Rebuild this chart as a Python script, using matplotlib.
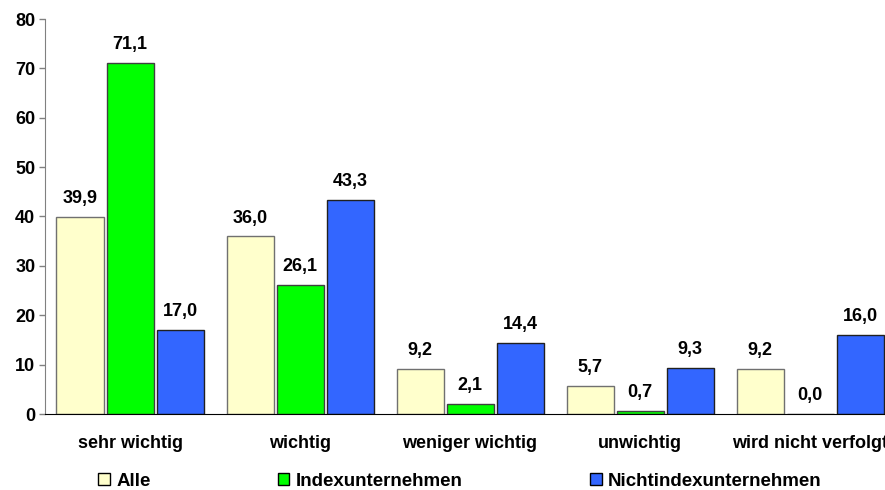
import numpy as np
import matplotlib.pyplot as plt
from matplotlib.patches import Patch

plt.rcParams['font.family'] = ['Liberation Sans', 'DejaVu Sans']
plt.rcParams['font.weight'] = 'bold'

categories = ['sehr wichtig', 'wichtig', 'weniger wichtig', 'unwichtig', 'wird nicht verfolgt']
series_names = ['Alle', 'Indexunternehmen', 'Nichtindexunternehmen']
alle = [39.9, 36.0, 9.2, 5.7, 9.2]
index_unt = [71.1, 26.1, 2.1, 0.7, 0.0]
nicht_index = [17.0, 43.3, 14.4, 9.3, 16.0]

colors = ['#FFFFCC', '#00FF00', '#3366FF']
edges = ['#707070', '#404040', '#202020']
fs = 13

fig = plt.figure(figsize=(8.85, 4.9), dpi=100)
# axes run past the right edge, so the last group is cut off
ax = fig.add_axes([45 / 885, 76 / 490, 850 / 885, 395 / 490])

x = np.arange(len(categories))
offset = 50 / 170
width = 47 / 170
for i, (vals, c, ec) in enumerate(zip([alle, index_unt, nicht_index], colors, edges)):
    bars = ax.bar(x + (i - 1) * offset, vals, width, color=c, edgecolor=ec, linewidth=1)
    for b, v in zip(bars, vals):
        ax.annotate(f'{v:.1f}'.replace('.', ','), (b.get_x() + b.get_width() / 2, v),
                    xytext=(0, 7), textcoords='offset points',
                    ha='center', va='bottom', fontsize=fs, fontweight='bold')

ax.set_xlim(-0.5, len(categories) - 0.5)
ax.set_ylim(0, 80)
ax.set_yticks(range(0, 81, 10))
ax.set_xticks(x)
ax.set_xticklabels(categories)
ax.tick_params(axis='x', length=0, pad=15, labelsize=fs)
ax.tick_params(axis='y', length=4, width=1, color='#808080', labelsize=fs, pad=3)
for lab in ax.get_xticklabels() + ax.get_yticklabels():
    lab.set_fontweight('bold')

ax.spines['top'].set_visible(False)
ax.spines['right'].set_visible(False)
ax.spines['left'].set_color('#808080')
ax.spines['bottom'].set_color('black')

handles = [Patch(facecolor=c, edgecolor='black', linewidth=1) for c in colors]
fig.legend(handles, series_names, loc='center left', bbox_to_anchor=(89 / 885, 9 / 490),
           ncol=3, frameon=False, handlelength=0.6, handleheight=0.6,
           handletextpad=0.35, columnspacing=6.8, borderpad=0,
           prop={'weight': 'bold', 'size': 13.5})

fig.savefig('out.png', dpi=100)
